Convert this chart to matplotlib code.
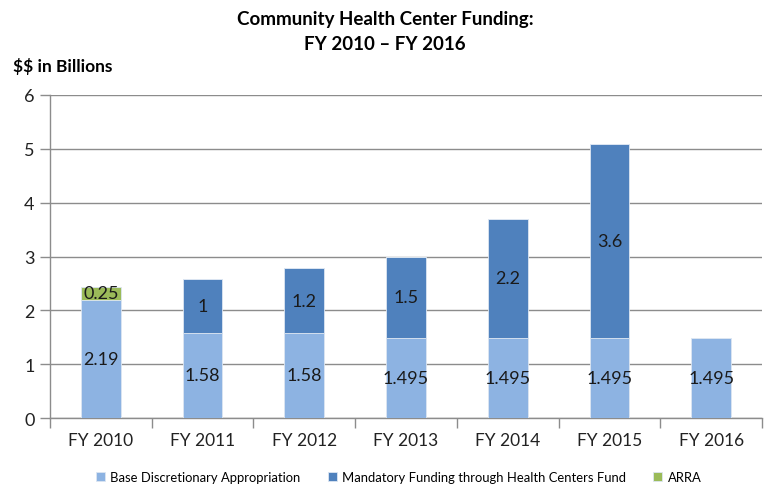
import matplotlib
matplotlib.use("Agg")
import matplotlib.pyplot as plt
import numpy as np

plt.rcParams['font.family'] = ['Lato', 'DejaVu Sans']

# data
years = ["FY 2010", "FY 2011", "FY 2012", "FY 2013", "FY 2014", "FY 2015", "FY 2016"]
base = [2.19, 1.58, 1.58, 1.495, 1.495, 1.495, 1.495]
mandatory = [0, 1, 1.2, 1.5, 2.2, 3.6, 0]
arra = [0.25, 0, 0, 0, 0, 0, 0]

c_base = "#8DB3E2"
c_mand = "#4F81BD"
c_arra = "#9BBB59"
grid_c = "#8C8C8C"


def labels_for(vals):
    return ["" if v == 0 else "%g" % v for v in vals]


fig = plt.figure(figsize=(7.7, 4.85), dpi=100)
ax = fig.add_axes([50 / 770, 1 - 419 / 485, 712 / 770, 323 / 485])

x = np.arange(len(years))
w = 0.39
b1 = ax.bar(x, base, w, color=c_base, edgecolor="#DCE6F2", linewidth=0.6,
            label="Base Discretionary Appropriation", zorder=3)
b2 = ax.bar(x, mandatory, w, bottom=base, color=c_mand, edgecolor="#DCE6F2",
            linewidth=0.6, label="Mandatory Funding through Health Centers Fund", zorder=3)
bottom3 = [a + b for a, b in zip(base, mandatory)]
b3 = ax.bar(x, arra, w, bottom=bottom3, color=c_arra, edgecolor="#DCE6F2",
            linewidth=0.6, label="ARRA", zorder=3)

for bars, vals in [(b1, base), (b2, mandatory), (b3, arra)]:
    ax.bar_label(bars, labels=labels_for(vals), label_type="center",
                 fontsize=13, color="#1A1A1A", zorder=4)

ax.set_xlim(-0.5, len(years) - 0.5)
ax.set_ylim(0, 6)
ax.set_yticks(range(0, 7))
ax.yaxis.grid(True, color=grid_c, linewidth=1.0, zorder=0)
ax.set_axisbelow(True)

ax.set_xticks(x)
ax.set_xticklabels(years, fontsize=12.5, color="#222222")
ax.tick_params(axis="x", length=0, pad=10)
ax.set_xticks(np.arange(-0.5, len(years)), minor=True)
ax.tick_params(axis="x", which="minor", length=7, color=grid_c, width=1)
ax.tick_params(axis="y", length=7, color=grid_c, width=1, labelsize=13,
               labelcolor="#222222", pad=4)

for s in ["top", "right"]:
    ax.spines[s].set_visible(False)
for s in ["left", "bottom"]:
    ax.spines[s].set_color(grid_c)
    ax.spines[s].set_linewidth(1.0)

fig.text(0.5, 1 - 20 / 485, "Community Health Center Funding:", ha="center",
         va="center", fontsize=13.5, fontweight="bold")
fig.text(0.5, 1 - 44 / 485, "FY 2010 \u2013 FY 2016", ha="center",
         va="center", fontsize=13.5, fontweight="bold")
fig.text(13 / 770, 1 - 67 / 485, r"\$\$ in Billions", ha="left", va="center",
         fontsize=12.5, fontweight="bold")

fig.legend(handles=[b1, b2, b3], loc="center", bbox_to_anchor=(0.5175, 1 - 478 / 485),
           ncol=3, frameon=False, fontsize=9.4, handlelength=0.7, handleheight=0.7,
           handletextpad=0.4, columnspacing=2.1)

fig.savefig("out.png", dpi=100)
